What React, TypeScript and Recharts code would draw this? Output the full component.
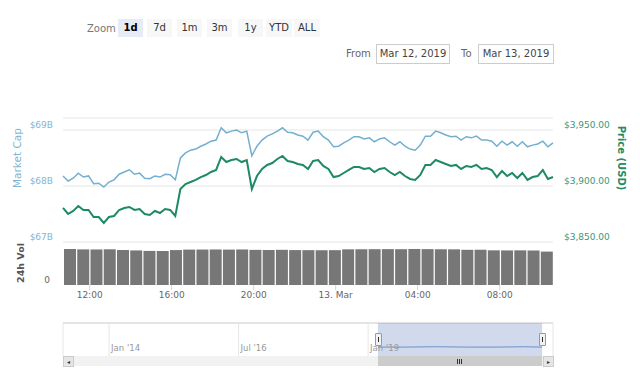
import { Bar, BarChart, CartesianGrid, Line, LineChart, ReferenceArea, XAxis, YAxis } from "recharts";

const FONT = '"DejaVu Sans", Verdana, sans-serif';

// hours since Mar 12 00:00, sampled every ~15 min
const POINT_START = 10.7;
const POINT_INTERVAL = 0.249;

const marketCapB = [
  68.18, 68.09, 68.14, 68.23, 68.16, 68.18, 68.04, 68.05, 67.98, 68.07,
  68.11, 68.21, 68.25, 68.29, 68.21, 68.23, 68.14, 68.13, 68.18, 68.16,
  68.21, 68.2, 68.11, 68.5, 68.59, 68.64, 68.66, 68.71, 68.75, 68.8,
  68.82, 69.04, 68.95, 68.98, 69.0, 68.95, 68.98, 68.54, 68.71, 68.82,
  68.89, 68.93, 68.98, 69.04, 68.96, 68.95, 68.91, 68.89, 68.82, 68.96,
  68.98, 68.88, 68.82, 68.7, 68.71, 68.77, 68.82, 68.88, 68.88, 68.84,
  68.86, 68.79, 68.84, 68.86, 68.79, 68.73, 68.79, 68.71, 68.66, 68.64,
  68.73, 68.89, 68.89, 68.98, 68.95, 68.91, 68.88, 68.89, 68.82, 68.88,
  68.86, 68.89, 68.82, 68.82, 68.8, 68.71, 68.8, 68.73, 68.79, 68.71,
  68.79, 68.7, 68.73, 68.75, 68.8, 68.7, 68.77,
];

const priceUsd = [
  3880.4, 3875.0, 3877.7, 3882.1, 3878.6, 3878.6, 3872.3, 3872.3, 3867.0, 3872.3,
  3873.2, 3878.6, 3880.4, 3881.3, 3878.6, 3879.5, 3875.0, 3874.1, 3877.7, 3875.9,
  3879.5, 3878.6, 3873.2, 3897.3, 3901.8, 3903.6, 3905.4, 3908.0, 3909.8, 3912.5,
  3914.3, 3925.9, 3921.4, 3923.2, 3924.1, 3921.4, 3923.2, 3897.3, 3908.9, 3915.2,
  3918.8, 3920.5, 3924.1, 3926.8, 3922.3, 3921.4, 3919.6, 3918.8, 3915.2, 3922.3,
  3923.2, 3917.9, 3915.2, 3908.0, 3908.9, 3911.6, 3914.3, 3917.0, 3917.0, 3915.2,
  3916.1, 3912.5, 3915.2, 3916.1, 3912.5, 3909.8, 3912.5, 3908.9, 3906.3, 3905.4,
  3909.8, 3918.8, 3918.8, 3923.2, 3921.4, 3919.6, 3917.9, 3918.8, 3915.2, 3917.9,
  3917.0, 3918.8, 3915.2, 3916.1, 3914.3, 3908.0, 3913.4, 3908.9, 3911.6, 3907.1,
  3911.6, 3905.4, 3908.0, 3908.9, 3914.3, 3906.3, 3908.0,
];

// 24h volume, billions USD
const VOL_START = 11.023;
const VOL_INTERVAL = 0.646;
const volumeB = [
  10.54, 10.42, 10.4, 10.45, 10.24, 10.12, 9.98, 9.95, 10.22, 10.36,
  10.38, 10.4, 10.36, 10.4, 10.28, 10.25, 10.3, 10.22, 10.2, 10.18,
  10.2, 10.44, 10.46, 10.48, 10.5, 10.48, 10.54, 10.5, 10.46, 10.44,
  10.3, 10.32, 10.15, 10.12, 10.14, 10.1, 9.78,
];

const timeTicks = [12, 16, 20, 24, 28, 32];
const timeTickLabels = ["12:00", "16:00", "20:00", "13. Mar", "04:00", "08:00"];
const capTicks = [67, 68, 69];
const capTickLabels = ["$67B", "$68B", "$69B"];
const priceTicks = [3850, 3900, 3950];
const priceTickLabels = ["$3,850.00", "$3,900.00", "$3,950.00"];

const zoomButtons = ["1d", "7d", "1m", "3m", "1y", "YTD", "ALL"];
const zoomButtonLeft = [118, 147, 177, 207, 238, 266, 294];
const zoomButtonWidth = [25, 25, 25, 25, 25, 26, 26];

const navTicks = [2014, 2016.5, 2019];
const navTickLabels = ["Jan '14", "Jul '16", "Jan '19"];
const navSelection = [2019.19, 2022.36];
const navYears = [2019.19, 2019.7, 2020.3, 2020.9, 2021.5, 2022.0, 2022.36];
const navValues = [0.27, 0.27, 0.28, 0.27, 0.27, 0.28, 0.27];

const CAP_COLOR = "#74afcf";
const PRICE_COLOR = "#1d8a63";

const lineData = marketCapB.map((cap, i) => ({
  t: POINT_START + i * POINT_INTERVAL,
  cap,
  price: priceUsd[i],
}));
const volData = volumeB.map((vol, i) => ({ t: VOL_START + i * VOL_INTERVAL, vol }));
const navData = navYears.map((year, i) => ({ year, v: navValues[i] }));

function AxisTitle(props: any) {
  const { px, py, rot, title, tint, heavy, fsize } = props;
  return (
    <text
      x={px}
      y={py}
      transform={`rotate(${rot} ${px} ${py})`}
      textAnchor="middle"
      dominantBaseline="central"
      fill={tint}
      fontFamily={FONT}
      fontSize={fsize}
      fontWeight={heavy ? "bold" : "normal"}
    >
      {title}
    </text>
  );
}

const abs = (left: number, top: number): React.CSSProperties => ({ position: "absolute", left, top });

export default function App() {
  return (
    <div
      style={{
        position: "absolute",
        left: 0,
        top: 0,
        width: 640,
        height: 380,
        overflow: "hidden",
        background: "#fff",
        fontFamily: FONT,
      }}
    >
      {/* range selector */}
      <div style={{ ...abs(87, 21), fontSize: 10, color: "#777", lineHeight: "16px" }}>Zoom</div>
      {zoomButtons.map((b, i) => (
        <div
          key={b}
          style={{
            ...abs(zoomButtonLeft[i], 19),
            width: zoomButtonWidth[i],
            height: 18,
            lineHeight: "18px",
            textAlign: "center",
            fontSize: 10,
            background: i === 0 ? "#e6ebf5" : "#f7f7f7",
            color: i === 0 ? "#000" : "#333",
            fontWeight: i === 0 ? "bold" : "normal",
          }}
        >
          {b}
        </div>
      ))}
      <div style={{ ...abs(346, 46), fontSize: 10, color: "#666", lineHeight: "16px" }}>From</div>
      <div
        style={{
          ...abs(376, 44),
          width: 72,
          height: 18,
          border: "1px solid #ccc",
          fontSize: 10,
          lineHeight: "18px",
          textAlign: "center",
          color: "#444",
        }}
      >
        Mar 12, 2019
      </div>
      <div style={{ ...abs(461, 46), fontSize: 10, color: "#666", lineHeight: "16px" }}>To</div>
      <div
        style={{
          ...abs(478, 44),
          width: 74,
          height: 18,
          border: "1px solid #ccc",
          fontSize: 10,
          lineHeight: "18px",
          textAlign: "center",
          color: "#444",
        }}
      >
        Mar 13, 2019
      </div>

      {/* price / market cap */}
      <div style={abs(0, 0)}>
        <LineChart width={640} height={250} data={lineData} margin={{ top: 118, right: 0, bottom: 8, left: 0 }}>
          <CartesianGrid vertical={false} yAxisId="cap" stroke="#e6e6e6" />
          <XAxis dataKey="t" type="number" domain={[10.7, 34.6]} hide />
          <YAxis
            yAxisId="cap"
            domain={[67, 69.2143]}
            ticks={capTicks}
            interval={0}
            width={63}
            axisLine={false}
            tickLine={false}
            tick={(p: any) => (
              <text x={53} y={p.y - 5} textAnchor="end" dominantBaseline="central" fontSize={9} fontFamily={FONT} fill="#7fb5d2">
                {capTickLabels[capTicks.indexOf(p.payload.value)]}
              </text>
            )}
            label={<AxisTitle px={17} py={158} rot={-90} title="Market Cap" tint="#7fb5d2" fsize={10.5} />}
          />
          <YAxis
            yAxisId="price"
            orientation="right"
            domain={[3850, 3960.71]}
            ticks={priceTicks}
            interval={0}
            width={87}
            axisLine={false}
            tickLine={false}
            tick={(p: any) => (
              <text x={564} y={p.y - 5} textAnchor="start" dominantBaseline="central" fontSize={9} fontFamily={FONT} fill="#3a9873">
                {priceTickLabels[priceTicks.indexOf(p.payload.value)]}
              </text>
            )}
            label={<AxisTitle px={621} py={158} rot={90} title="Price (USD)" tint="#2a8a64" fsize={10} heavy />}
          />
          <Line
            yAxisId="cap"
            dataKey="cap"
            type="linear"
            stroke={CAP_COLOR}
            strokeWidth={1.5}
            dot={false}
            isAnimationActive={false}
          />
          <Line
            yAxisId="price"
            dataKey="price"
            type="linear"
            stroke={PRICE_COLOR}
            strokeWidth={2}
            dot={false}
            isAnimationActive={false}
          />
        </LineChart>
      </div>

      {/* 24h volume */}
      <div style={abs(0, 0)}>
        <BarChart width={640} height={310} data={volData} margin={{ top: 244, right: 87, bottom: 5, left: 0 }} barSize={12}>
          <XAxis
            dataKey="t"
            type="number"
            domain={[10.7, 34.6]}
            ticks={timeTicks}
            interval={0}
            height={20}
            axisLine={false}
            tickSize={5}
            tickLine={{ stroke: "#ccd6eb" }}
            tickFormatter={(v: number) => timeTickLabels[timeTicks.indexOf(v)]}
            tick={{ fontSize: 9, fill: "#666", fontFamily: FONT }}
          />
          <YAxis
            domain={[0, 12]}
            ticks={[0]}
            interval={0}
            width={63}
            axisLine={false}
            tickLine={false}
            tick={(p: any) => (
              <text x={50} y={p.y - 5} textAnchor="end" dominantBaseline="central" fontSize={9} fontFamily={FONT} fill="#666">
                0
              </text>
            )}
            label={<AxisTitle px={20} py={263} rot={-90} title="24h Vol" tint="#555" fsize={9.5} heavy />}
          />
          <Bar dataKey="vol" fill="#777777" isAnimationActive={false} />
        </BarChart>
      </div>

      {/* navigator */}
      <div style={{ ...abs(63, 322), width: 490, height: 2, background: "#e4e4e4" }} />
      <div style={abs(0, 0)}>
        <LineChart width={640} height={380} data={navData} margin={{ top: 323, right: 87, bottom: 23, left: 63 }}>
          <CartesianGrid horizontal={false} stroke="#e6e6e6" />
          <XAxis
            dataKey="year"
            type="number"
            domain={[2013.11, 2022.57]}
            ticks={navTicks}
            interval={0}
            height={1}
            axisLine={false}
            tickLine={false}
            tick={(p: any) => (
              <text x={p.x + 2} y={348} dominantBaseline="central" fontSize={8.5} fontFamily={FONT} fill="#999">
                {navTickLabels[navTicks.indexOf(p.payload.value)]}
              </text>
            )}
          />
          <YAxis hide domain={[0, 1]} />
          <ReferenceArea x1={navSelection[0]} x2={navSelection[1]} fill="rgb(102,133,194)" fillOpacity={0.3} stroke="none" />
          <Line dataKey="v" type="linear" stroke="#6f8fc9" strokeWidth={1} dot={false} isAnimationActive={false} />
        </LineChart>
      </div>
      {/* navigator handles */}
      {[375, 539].map((x) => (
        <div
          key={x}
          style={{
            ...abs(x, 333),
            width: 5,
            height: 11,
            background: "#f2f2f2",
            border: "1px solid #999",
            borderRadius: 1,
          }}
        >
          <div style={{ position: "absolute", left: 2, top: 3, width: 1, height: 5, background: "#333" }} />
        </div>
      ))}

      {/* scrollbar */}
      <div style={{ ...abs(63, 356), width: 490, height: 10, background: "#f2f2f2" }} />
      <div style={{ ...abs(378, 356), width: 164, height: 10, background: "#cccccc" }}>
        {[-2, 0, 2].map((d) => (
          <div key={d} style={{ position: "absolute", left: 81 + d, top: 3, width: 1, height: 5, background: "#333" }} />
        ))}
      </div>
      {[63, 543].map((x, i) => (
        <div
          key={x}
          style={{
            ...abs(x, 356),
            width: 9,
            height: 9,
            background: "#e6e6e6",
            border: "1px solid #cccccc",
            fontSize: 6,
            lineHeight: "9px",
            textAlign: "center",
            color: "#333",
          }}
        >
          {i === 0 ? "◂" : "▸"}
        </div>
      ))}
    </div>
  );
}
